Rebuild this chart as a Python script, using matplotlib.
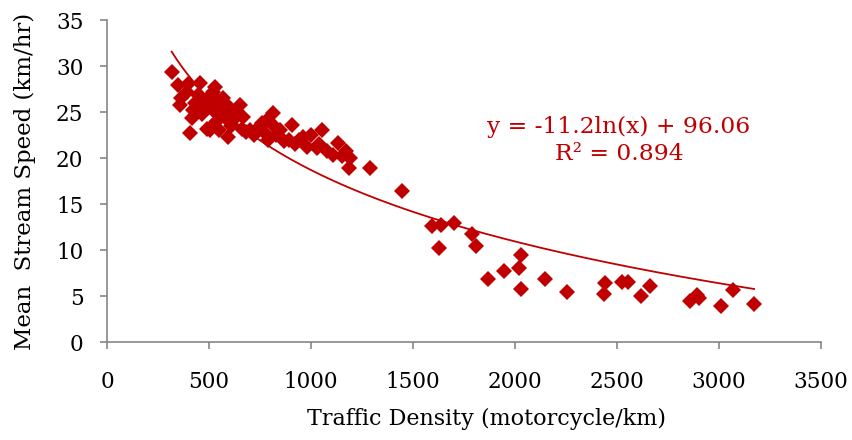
import numpy as np
import matplotlib
matplotlib.use('Agg')
import matplotlib.pyplot as plt

# traffic density (motorcycle/km) and mean stream speed (km/hr)
density = [317, 349, 358, 365, 391, 395, 407, 415, 423, 430, 440, 445, 456, 460,
           465, 470, 480, 490, 495, 505, 510, 515, 520, 529, 530, 540, 545, 550,
           555, 560, 570, 575, 585, 590, 595, 600, 610, 620, 630, 652, 660, 665,
           680, 700, 720, 740, 760, 770, 780, 790, 812, 820, 830, 850, 870, 890,
           905, 920, 940, 961, 980, 1000, 1028, 1040, 1052, 1080, 1108, 1132,
           1150, 1170, 1188, 1191, 1289,
           1444, 1592, 1626, 1637, 1701, 1788, 1810, 1869, 1946, 2021, 2029,
           2031, 2146, 2255, 2435, 2441, 2526, 2556, 2619, 2662, 2858, 2891,
           2903, 3010, 3070, 3172]
speed = [29.3, 27.9, 25.8, 26.5, 27.2, 28.0, 22.7, 24.4, 25.2, 26.0, 25.0, 26.8, 28.1, 25.5,
         24.8, 26.2, 25.2, 23.2, 26.5, 23.0, 25.8, 23.5, 27.2, 27.7, 25.0, 24.0, 26.2, 23.0,
         25.5, 24.8, 26.5, 25.3, 24.3, 25.8, 22.3, 24.0, 23.5, 25.0, 24.5, 25.8, 23.2, 24.5,
         22.8, 23.0, 22.5, 23.3, 23.8, 22.8, 24.0, 22.0, 24.9, 23.5, 22.5, 23.0, 21.8, 22.0,
         23.6, 21.5, 22.0, 22.3, 21.2, 22.5, 21.05, 21.5, 23.0, 20.8, 20.3, 21.6,
         20.2, 20.8, 18.95, 20.0, 18.9,
         16.4, 12.6, 10.2, 12.7, 12.9, 11.7, 10.4, 6.9, 7.75, 8.0, 9.5,
         5.8, 6.8, 5.4, 5.2, 6.4, 6.55, 6.55, 5.0, 6.1, 4.45, 5.1,
         4.75, 3.9, 5.7, 4.1]

# logarithmic trendline y = a ln(x) + b
a = -11.2
b = 96.06
r2 = 0.894

red = '#C00000'
plt.rcParams['font.family'] = 'DejaVu Serif'

fig = plt.figure(figsize=(8.52, 4.4), dpi=100)
ax = fig.add_axes([0.1256, 0.2227, 0.838, 0.7318])

ax.plot(density, speed, 'D', color=red, markersize=7.8, markeredgewidth=0, zorder=3)
xt = np.linspace(min(density), max(density), 300)
ax.plot(xt, a*np.log(xt) + b, '-', color=red, lw=1.3, zorder=2)

ax.set_xlim(0, 3500)
ax.set_ylim(0, 35)
ax.set_xticks(np.arange(0, 3501, 500))
ax.set_yticks(np.arange(0, 36, 5))
for s in ['top', 'right']:
    ax.spines[s].set_visible(False)
for s in ['left', 'bottom']:
    ax.spines[s].set_color('#868686')
    ax.spines[s].set_linewidth(1.2)
ax.tick_params(direction='out', length=5, width=1.2, color='#868686',
               labelsize=15.5, labelcolor='black')
ax.tick_params(axis='y', pad=12)
ax.tick_params(axis='x', pad=16)
ax.set_xlabel('Traffic Density (motorcycle/km)', fontsize=16)
ax.xaxis.set_label_coords(0.531, -0.205)
ax.set_ylabel('Mean  Stream Speed (km/hr)', fontsize=16.5, labelpad=14)

ax.text(0.717, 0.626, 'y = -11.2ln(x) + 96.06\nR² = %.3f' % r2, transform=ax.transAxes,
        ha='center', va='center', multialignment='center', color=red,
        fontsize=16.8, linespacing=1.3)

fig.savefig('out.png', dpi=100)
